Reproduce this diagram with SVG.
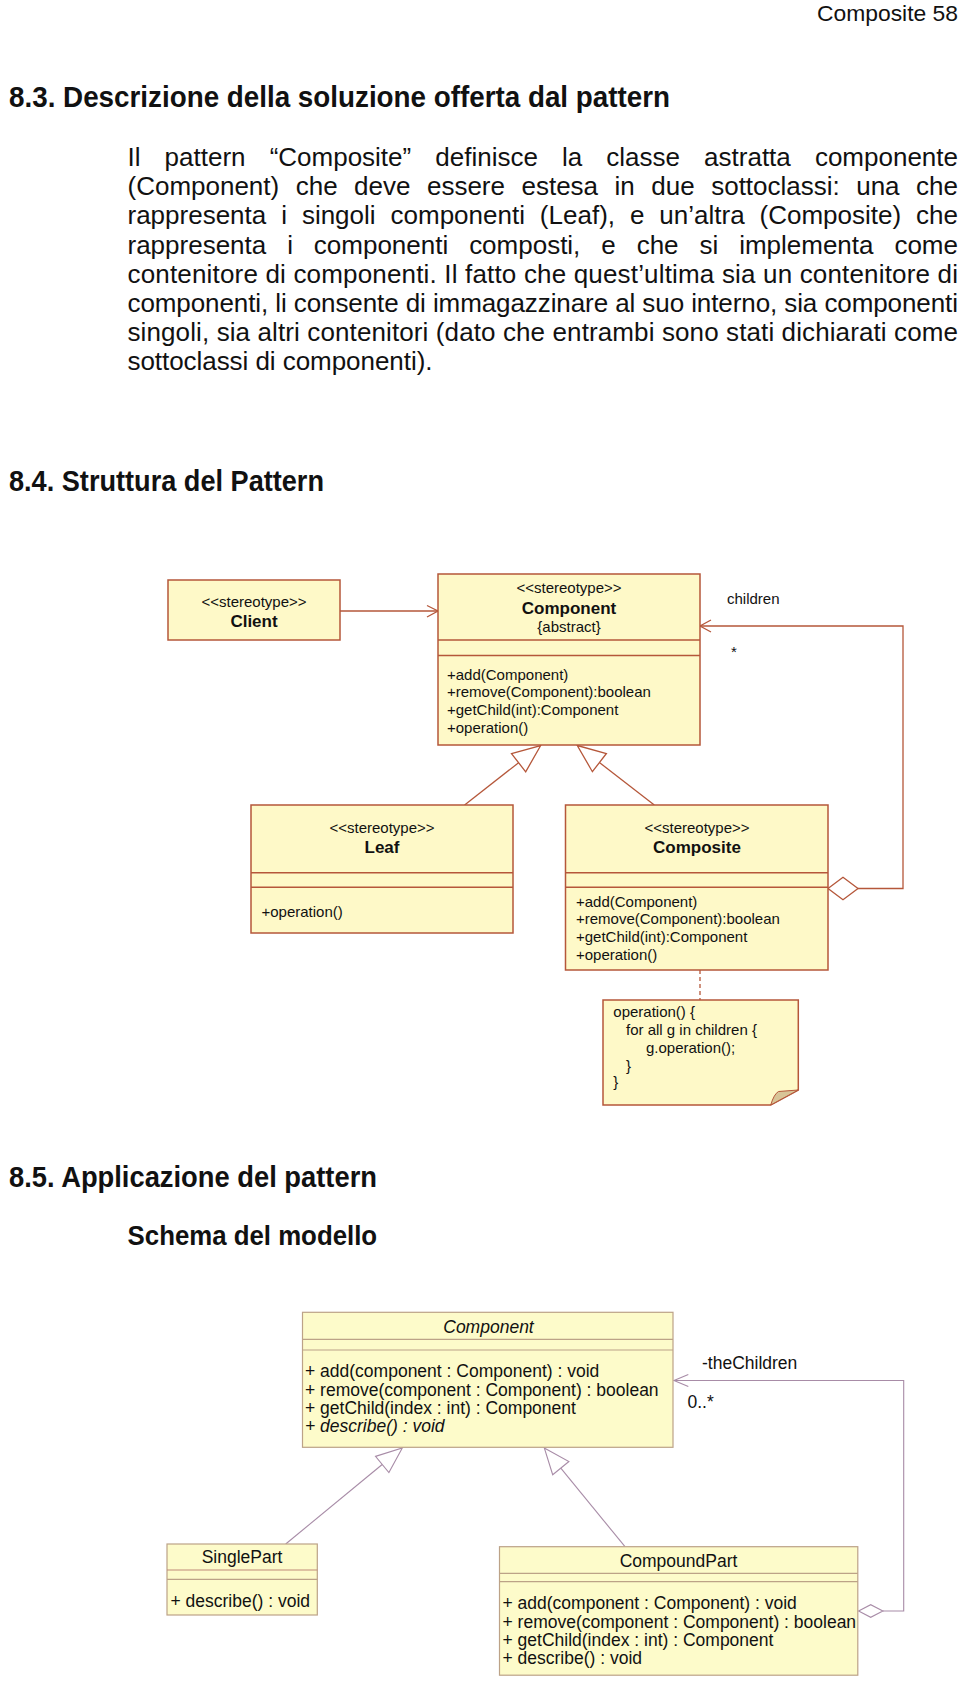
<svg xmlns="http://www.w3.org/2000/svg" width="960" height="1682" viewBox="0 0 960 1682">
<style>
text{font-family:"Liberation Sans",Arial,sans-serif;fill:#111}
.h{font-weight:bold;font-size:30px}
.p{font-size:26px}
.box{fill:#fef9c8;stroke:#b5573a;stroke-width:1.5}
.div{stroke:#b5573a;stroke-width:1.5}
.conn{stroke:#b5573a;fill:none;stroke-width:1.3}
.t15{font-size:15px}
.b17{font-size:17px;font-weight:bold}
.box2{fill:#fdfbca;stroke:#bca287;stroke-width:1.2}
.div2{stroke:#bca287;stroke-width:1.2}
.conn2{stroke:#a88ca7;fill:none;stroke-width:1.1}
.t17{font-size:17.5px}
.mid{text-anchor:middle}
</style>
<rect width="960" height="1682" fill="#fff"/>
<text x="958" y="21" font-size="22" text-anchor="end" textLength="141" lengthAdjust="spacingAndGlyphs">Composite 58</text>
<text class="h" x="9" y="107" textLength="661" lengthAdjust="spacingAndGlyphs">8.3. Descrizione della soluzione offerta dal pattern</text>
<g class="p">
<text class="p" x="127.5" y="166" word-spacing="16.9" textLength="830.5" lengthAdjust="spacing">Il pattern “Composite” definisce la classe astratta componente</text>
<text class="p" x="127.5" y="195.2" word-spacing="9.3" textLength="830.5" lengthAdjust="spacing">(Component) che deve essere estesa in due sottoclassi: una che</text>
<text class="p" x="127.5" y="224.4" word-spacing="7.7" textLength="830.5" lengthAdjust="spacing">rappresenta i singoli componenti (Leaf), e un’altra (Composite) che</text>
<text class="p" x="127.5" y="253.6" word-spacing="13.7" textLength="830.5" lengthAdjust="spacing">rappresenta i componenti composti, e che si implementa come</text>
<text class="p" x="127.5" y="282.8" textLength="830.5" lengthAdjust="spacing">contenitore di componenti. Il fatto che quest’ultima sia un contenitore di</text>
<text class="p" x="127.5" y="312" textLength="830.5" lengthAdjust="spacing">componenti, li consente di immagazzinare al suo interno, sia componenti</text>
<text class="p" x="127.5" y="341.2" textLength="830.5" lengthAdjust="spacing">singoli, sia altri contenitori (dato che entrambi sono stati dichiarati come</text>
<text class="p" x="127.5" y="370.4" textLength="305" lengthAdjust="spacing">sottoclassi di componenti).</text>
</g>
<text class="h" x="9" y="491" textLength="315" lengthAdjust="spacingAndGlyphs">8.4. Struttura del Pattern</text>

<g id="connectors-top">
<line class="conn" x1="340" y1="611" x2="438" y2="611"/>
<polyline class="conn" points="427,605.5 438,611 427,617"/>
<polyline class="conn" points="700,626 903,626 903,888.5 858,888.5"/>
<polyline class="conn" points="711,620 700,626 711,632"/>
<polygon class="conn" style="fill:#fff" points="828,888.5 843,877.3 858,888.5 843,899.7"/>
<line class="conn" x1="464.6" y1="805" x2="518.6" y2="762.7"/>
<polygon class="conn" style="fill:#fff" points="540.7,745.5 525.7,771.8 511.5,753.6"/>
<line class="conn" x1="654.3" y1="805" x2="599.4" y2="762.6"/>
<polygon class="conn" style="fill:#fff" points="577.3,745.5 606.4,753.5 592.4,771.7"/>
<line class="conn" x1="700" y1="970" x2="700" y2="1000" stroke-dasharray="4,3"/>
</g>

<g id="client">
<rect class="box" x="168" y="580" width="172" height="60"/>
<text class="t15 mid" x="254" y="606.5">&lt;&lt;stereotype&gt;&gt;</text>
<text class="b17 mid" x="254" y="626.5">Client</text>
</g>

<g id="component">
<rect class="box" x="438" y="574" width="262" height="171"/>
<line class="div" x1="438" y1="640" x2="700" y2="640"/>
<line class="div" x1="438" y1="655.5" x2="700" y2="655.5"/>
<text class="t15 mid" x="569" y="593">&lt;&lt;stereotype&gt;&gt;</text>
<text class="b17 mid" x="569" y="613.5">Component</text>
<text class="t15 mid" x="569" y="632">{abstract}</text>
<text class="t15" x="447" y="679.5">+add(Component)</text>
<text class="t15" x="447" y="697.3">+remove(Component):boolean</text>
<text class="t15" x="447" y="715">+getChild(int):Component</text>
<text class="t15" x="447" y="732.7">+operation()</text>
</g>

<text class="t15" x="727" y="604">children</text>
<text class="t15" x="731" y="657">*</text>

<g id="leaf">
<rect class="box" x="251" y="805" width="262" height="128"/>
<line class="div" x1="251" y1="872.7" x2="513" y2="872.7"/>
<line class="div" x1="251" y1="887.3" x2="513" y2="887.3"/>
<text class="t15 mid" x="382" y="833.3">&lt;&lt;stereotype&gt;&gt;</text>
<text class="b17 mid" x="382" y="853.3">Leaf</text>
<text class="t15" x="261.5" y="916.7">+operation()</text>
</g>

<g id="composite">
<rect class="box" x="565.5" y="805" width="262.5" height="165"/>
<line class="div" x1="565.5" y1="872.7" x2="828" y2="872.7"/>
<line class="div" x1="565.5" y1="887.3" x2="828" y2="887.3"/>
<text class="t15 mid" x="697" y="833.3">&lt;&lt;stereotype&gt;&gt;</text>
<text class="b17 mid" x="697" y="853.3">Composite</text>
<text class="t15" x="576" y="906.7">+add(Component)</text>
<text class="t15" x="576" y="924.3">+remove(Component):boolean</text>
<text class="t15" x="576" y="942.3">+getChild(int):Component</text>
<text class="t15" x="576" y="960">+operation()</text>
</g>

<g id="note">
<path d="M603,1000 H798.3 V1090 L770.7,1105 H603 Z" fill="#fef9c8" stroke="#b5573a" stroke-width="1.5"/>
<path d="M770.7,1105 Q774,1094 778.5,1091.5 L798.3,1090 Z" fill="#d8c497" stroke="#b5573a" stroke-width="1"/>
<text class="t15" x="613.3" y="1016.7">operation() {</text>
<text class="t15" x="626" y="1035">for all g in children {</text>
<text class="t15" x="646" y="1052.7">g.operation();</text>
<text class="t15" x="626" y="1070.7">}</text>
<text class="t15" x="613.3" y="1086.7">}</text>
</g>

<text class="h" x="9" y="1187" textLength="368" lengthAdjust="spacingAndGlyphs">8.5. Applicazione del pattern</text>
<text class="h" x="127.6" y="1245" textLength="249.5" lengthAdjust="spacingAndGlyphs" style="font-size:28px">Schema del modello</text>

<g id="connectors-bottom">
<polyline class="conn2" points="674,1380.5 903.7,1380.5 903.7,1611 882.9,1611"/>
<polyline class="conn2" points="688.3,1374.5 674,1380.5 688.3,1386.5"/>
<polygon class="conn2" style="fill:#fff" points="858.6,1611 870.7,1604.7 882.9,1611 870.7,1617.3"/>
<line class="conn2" x1="285.7" y1="1544" x2="382.2" y2="1464.5"/>
<polygon class="conn2" style="fill:#fff" points="402.3,1448 388.9,1472.6 375.5,1456.4"/>
<line class="conn2" x1="625" y1="1546.7" x2="560.8" y2="1468.1"/>
<polygon class="conn2" style="fill:#fff" points="544.3,1448 568.9,1461.5 552.7,1474.7"/>
</g>

<g id="component2">
<rect class="box2" x="302.5" y="1312.3" width="370.5" height="135"/>
<line class="div2" x1="302.5" y1="1339.3" x2="673" y2="1339.3"/>
<line class="div2" x1="302.5" y1="1350" x2="673" y2="1350"/>
<text class="t17 mid" x="488.5" y="1332.7" font-style="italic">Component</text>
<text class="t17" x="305" y="1377.3">+ add(component : Component) : void</text>
<text class="t17" x="305" y="1396">+ remove(component : Component) : boolean</text>
<text class="t17" x="305" y="1414">+ getChild(index : int) : Component</text>
<text class="t17" x="305" y="1431.7" font-style="italic">+ describe() : void</text>
</g>

<text class="t17" x="702" y="1369">-theChildren</text>
<text class="t17" x="687.5" y="1408">0..*</text>

<g id="singlepart">
<rect class="box2" x="167" y="1544" width="150.3" height="71"/>
<line class="div2" x1="167" y1="1570" x2="317.3" y2="1570" style="stroke:#c08a78"/>
<line class="div2" x1="167" y1="1579.3" x2="317.3" y2="1579.3"/>
<text class="t17 mid" x="242" y="1563.3">SinglePart</text>
<text class="t17" x="170.5" y="1606.7">+ describe() : void</text>
</g>

<g id="compoundpart">
<rect class="box2" x="499.5" y="1546.7" width="358.3" height="128.5"/>
<line class="div2" x1="499.5" y1="1573.3" x2="857.8" y2="1573.3"/>
<line class="div2" x1="499.5" y1="1581.7" x2="857.8" y2="1581.7"/>
<text class="t17 mid" x="678.5" y="1567.3">CompoundPart</text>
<text class="t17" x="502.5" y="1609.3">+ add(component : Component) : void</text>
<text class="t17" x="502.5" y="1627.7">+ remove(component : Component) : boolean</text>
<text class="t17" x="502.5" y="1646">+ getChild(index : int) : Component</text>
<text class="t17" x="502.5" y="1664.3">+ describe() : void</text>
</g>
</svg>
